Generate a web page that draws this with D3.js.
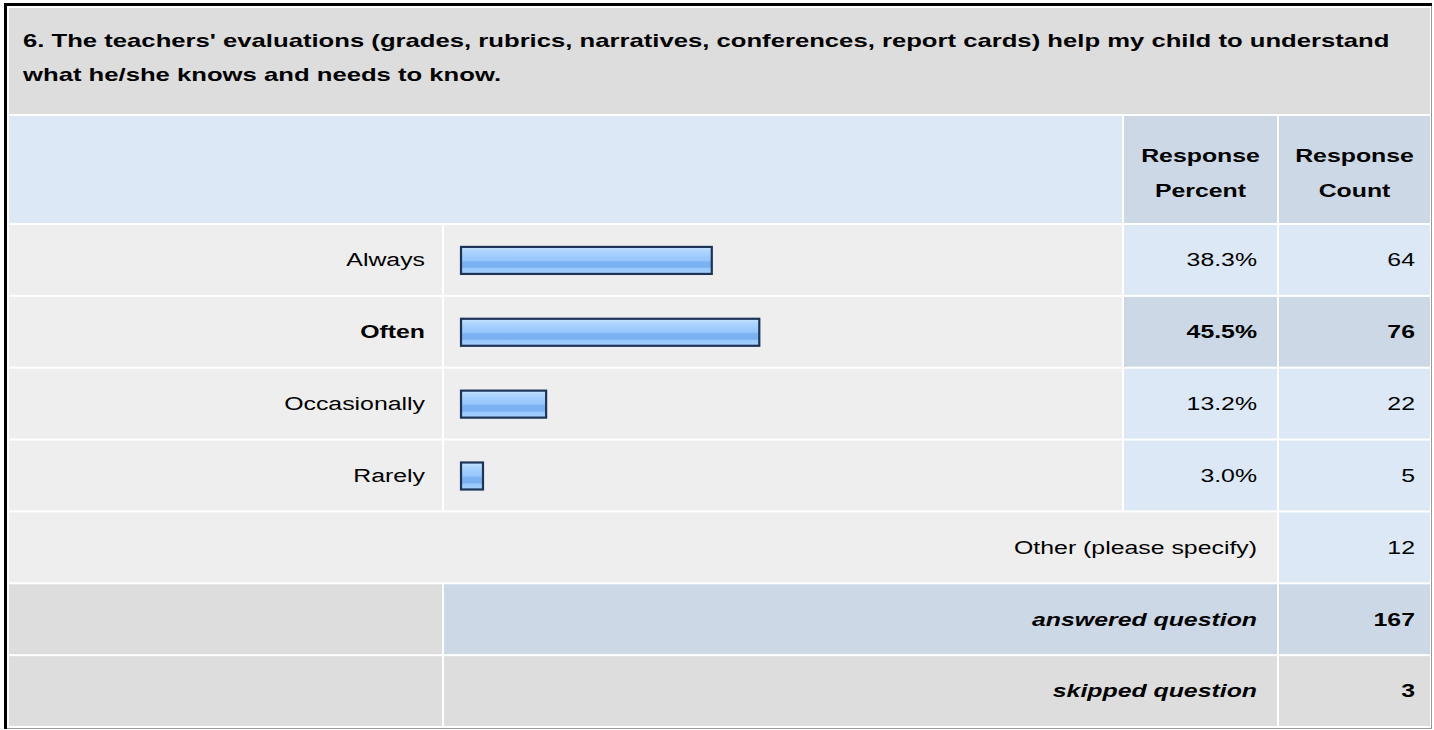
<!DOCTYPE html>
<html>
<head>
<meta charset="utf-8">
<script src="https://cdn.jsdelivr.net/npm/d3@7"></script>
<style>
  body { margin: 0; background: #fff; }
  text { font-family: "Liberation Sans", Arial, sans-serif; fill: #000; }
</style>
</head>
<body>
<div id="container"></div>
<script>
let w = 1434;
let h = 730;

// survey data
const question = ["6. The teachers' evaluations (grades, rubrics, narratives, conferences, report cards) help my child to understand",
                  "what he/she knows and needs to know."];
const categories = ["Always", "Often", "Occasionally", "Rarely"];
const percents = [38.3, 45.5, 13.2, 3.0];
const counts = [64, 76, 22, 5];
const highlighted = "Often";
const otherLabel = "Other (please specify)";
const otherCount = 12;
const answered = 167;
const skipped = 3;

let fs = 18;      // font size
let sx = 1.38;    // the screenshot text is stretched sideways

let viz = d3.select("#container")
  .append("svg")
    .attr("width", w)
    .attr("height", h)
    .style("background-color", "white")
;

// outer border (inset look)
viz.append("line").attr("x1", 4).attr("x2", 1432).attr("y1", 4.5).attr("y2", 4.5)
   .attr("stroke", "#000").attr("stroke-width", 3);
viz.append("line").attr("x1", 5.5).attr("x2", 5.5).attr("y1", 3).attr("y2", 729)
   .attr("stroke", "#000").attr("stroke-width", 3);
viz.append("line").attr("x1", 1431.5).attr("x2", 1431.5).attr("y1", 6).attr("y2", 729)
   .attr("stroke", "#999").attr("stroke-width", 1);
viz.append("line").attr("x1", 7).attr("x2", 1432).attr("y1", 728.5).attr("y2", 728.5)
   .attr("stroke", "#999").attr("stroke-width", 1);

// columns
let col = {
  label: [9, 442],
  bar: [444, 1122],
  pct: [1124, 1277],
  count: [1279, 1430]
};

function cell(x0, x1, y0, y1, color) {
  viz.append("rect")
    .attr("x", x0).attr("y", y0)
    .attr("width", x1 - x0).attr("height", y1 - y0)
    .attr("fill", color);
}

function label(str, x, y, anchor, opts) {
  opts = opts || {};
  viz.append("g")
    .attr("transform", "translate(" + x + "," + y + ") scale(" + sx + ",1)")
    .append("text")
      .attr("text-anchor", anchor)
      .attr("dy", "0.35em")
      .style("font-size", (opts.size || fs) + "px")
      .style("font-weight", opts.bold ? "bold" : "normal")
      .style("font-style", opts.italic ? "italic" : "normal")
      .text(str);
}

const gray = "#dddddd";
const light = "#eeeeee";
const blue = "#dce8f5";
const blue2 = "#ccd8e5";

// question header
cell(9, 1430, 8, 114, gray);
question.forEach(function(line, i) {
  label(line, 23, 40 + i * 34, "start", {bold: true, size: 18.6});
});

// column header row
cell(col.label[0], col.bar[1], 116, 223, blue);
cell(col.pct[0], col.pct[1], 116, 223, blue2);
cell(col.count[0], col.count[1], 116, 223, blue2);
label("Response", (col.pct[0] + col.pct[1]) / 2, 156, "middle", {bold: true});
label("Percent", (col.pct[0] + col.pct[1]) / 2, 191, "middle", {bold: true});
label("Response", (col.count[0] + col.count[1]) / 2, 156, "middle", {bold: true});
label("Count", (col.count[0] + col.count[1]) / 2, 191, "middle", {bold: true});

// rows
let rowKeys = categories.concat(["other", "answered", "skipped"]);
let yScale = d3.scaleBand().domain(rowKeys).range([225, 726]).paddingInner(0.028);
let xScale = d3.scaleLinear().domain([0, 100]).range([0, 660]);

// bar gradient
let defs = viz.append("defs");
let grad = defs.append("linearGradient").attr("id", "barGrad")
  .attr("x1", 0).attr("x2", 0).attr("y1", 0).attr("y2", 1);
[[0, "#d2e8ff"], [0.12, "#b3d7ff"], [0.3, "#a2ceff"], [0.5, "#97c6fc"],
 [0.55, "#7cb3f3"], [0.75, "#79b0f2"], [0.8, "#99c8fb"], [1, "#a4d0fd"]]
  .forEach(function(s) {
    grad.append("stop").attr("offset", s[0]).attr("stop-color", s[1]);
  });

categories.forEach(function(c, i) {
  let y0 = yScale(c);
  let y1 = y0 + yScale.bandwidth();
  let mid = (y0 + y1) / 2;
  let hi = (c == highlighted);
  cell(col.label[0], col.label[1], y0, y1, light);
  cell(col.bar[0], col.bar[1], y0, y1, light);
  cell(col.pct[0], col.pct[1], y0, y1, hi ? blue2 : blue);
  cell(col.count[0], col.count[1], y0, y1, hi ? blue2 : blue);

  label(c, 425, mid, "end", {bold: hi});
  viz.append("rect")
    .attr("x", 461)
    .attr("y", mid - 13)
    .attr("width", Math.max(xScale(percents[i]) - 2, 22))
    .attr("height", 27)
    .attr("fill", "url(#barGrad)")
    .attr("stroke", "#1d3458")
    .attr("stroke-width", 2.2);
  label(percents[i].toFixed(1) + "%", 1257, mid, "end", {bold: hi});
  label(counts[i], 1415, mid, "end", {bold: hi});
});

// other
let yo = yScale("other");
cell(col.label[0], col.pct[1], yo, yo + yScale.bandwidth(), light);
cell(col.count[0], col.count[1], yo, yo + yScale.bandwidth(), blue);
label(otherLabel, 1257, yo + yScale.bandwidth() / 2, "end");
label(otherCount, 1415, yo + yScale.bandwidth() / 2, "end");

// answered
let ya = yScale("answered");
cell(col.label[0], col.label[1], ya, ya + yScale.bandwidth(), gray);
cell(col.bar[0], col.pct[1], ya, ya + yScale.bandwidth(), blue2);
cell(col.count[0], col.count[1], ya, ya + yScale.bandwidth(), blue2);
label("answered question", 1257, ya + yScale.bandwidth() / 2, "end", {bold: true, italic: true});
label(answered, 1415, ya + yScale.bandwidth() / 2, "end", {bold: true});

// skipped
let ys = yScale("skipped");
cell(col.label[0], col.label[1], ys, ys + yScale.bandwidth(), gray);
cell(col.bar[0], col.pct[1], ys, ys + yScale.bandwidth(), gray);
cell(col.count[0], col.count[1], ys, ys + yScale.bandwidth(), gray);
label("skipped question", 1257, ys + yScale.bandwidth() / 2, "end", {bold: true, italic: true});
label(skipped, 1415, ys + yScale.bandwidth() / 2, "end", {bold: true});
</script>
</body>
</html>
